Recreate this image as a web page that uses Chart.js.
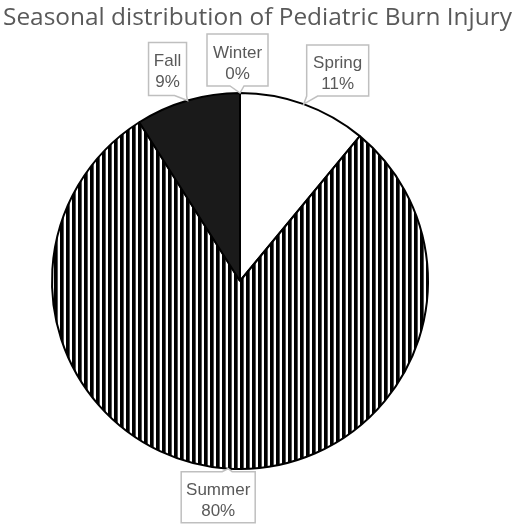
<!DOCTYPE html>
<html>
<head>
<meta charset="utf-8">
<script src="https://cdn.jsdelivr.net/npm/chart.js@4"></script>
<style>
  html, body { margin: 0; padding: 0; background: #fff; }
  #wrap { width: 520px; height: 528px; }
</style>
</head>
<body>
<div id="wrap"><canvas id="myChart"></canvas></div>
<script>
  const title = 'Seasonal distribution of Pediatric Burn Injury';
  const seasons = ['Winter', 'Spring', 'Summer', 'Fall'];
  const percents = [0, 11, 80, 9];

  // callout layout: box size, box centre offset from the slice edge, tail base (x offsets from tip)
  const boxSize = [[61, 52], [62, 51], [74, 51], [38, 53]];
  const boxOffset = [[-2.5, -33], [34, -33.5], [-10, 28.5], [-20, -31.5]];
  const tailBase = [[-10, 4], [3, 14], [-6, 4], [-13, -1]];

  // vertical stripes for summer
  const tile = document.createElement('canvas');
  tile.width = 6;
  tile.height = 6;
  const tctx = tile.getContext('2d');
  tctx.fillStyle = '#ffffff';
  tctx.fillRect(0, 0, 6, 6);
  tctx.fillStyle = '#000000';
  tctx.fillRect(0, 0, 3, 6);
  tctx.fillStyle = '#555555';
  tctx.fillRect(3, 0, 1, 6);
  const stripes = tctx.createPattern(tile, 'repeat');

  const calloutPlugin = {
    id: 'callouts',
    afterDraw(chart) {
      const ctx = chart.ctx;
      ctx.save();

      // title
      ctx.fillStyle = '#595959';
      let size = 28;
      ctx.font = size + 'px "Open Sans"';
      let w = ctx.measureText(title).width;
      size = size * 509 / w;
      ctx.font = size.toFixed(2) + 'px "Open Sans"';
      ctx.textAlign = 'left';
      ctx.textBaseline = 'alphabetic';
      ctx.fillText(title, 3, 25);

      const total = percents.reduce((a, b) => a + b, 0);
      const arcs = chart.getDatasetMeta(0).data;
      ctx.font = '17px "Liberation Sans"';
      ctx.textAlign = 'center';
      arcs.forEach((arc, i) => {
        const mid = (arc.startAngle + arc.endAngle) / 2;
        const tx = arc.x + Math.cos(mid) * arc.outerRadius;
        const ty = arc.y + Math.sin(mid) * arc.outerRadius;
        const bw = boxSize[i][0], bh = boxSize[i][1];
        const cx = tx + boxOffset[i][0], cy = ty + boxOffset[i][1];
        const l = cx - bw / 2, r = cx + bw / 2, t = cy - bh / 2, b = cy + bh / 2;
        const b1 = Math.max(l, Math.min(r, tx + tailBase[i][0]));
        const b2 = Math.max(l, Math.min(r, tx + tailBase[i][1]));

        ctx.beginPath();
        if (ty < t) {
          ctx.moveTo(l, t); ctx.lineTo(b1, t); ctx.lineTo(tx, ty); ctx.lineTo(b2, t);
          ctx.lineTo(r, t); ctx.lineTo(r, b); ctx.lineTo(l, b);
        } else {
          ctx.moveTo(l, t); ctx.lineTo(r, t); ctx.lineTo(r, b); ctx.lineTo(b2, b);
          ctx.lineTo(tx, ty); ctx.lineTo(b1, b); ctx.lineTo(l, b);
        }
        ctx.closePath();
        ctx.fillStyle = '#ffffff';
        ctx.fill();
        ctx.lineWidth = 1.5;
        ctx.strokeStyle = '#bfbfbf';
        ctx.stroke();

        const pct = Math.round(percents[i] / total * 100) + '%';
        ctx.fillStyle = '#595959';
        ctx.fillText(seasons[i], cx, cy - 2.5);
        ctx.fillText(pct, cx, cy + 18.5);
      });
      ctx.restore();
    }
  };

  const data = {
    labels: seasons,
    datasets: [{
      data: percents,
      backgroundColor: ['#ffffff', '#ffffff', stripes, '#1a1a1a'],
      borderColor: '#000000',
      borderWidth: 2,
    }]
  };

  const config = {
    type: 'pie',
    data: data,
    options: {
      responsive: true,
      maintainAspectRatio: false,
      animation: false,
      layout: { padding: { left: 51, right: 91, top: 92, bottom: 58 } },
      plugins: {
        legend: { display: false },
        tooltip: { enabled: false },
        title: { display: false }
      }
    },
    plugins: [calloutPlugin]
  };

  const myChart = new Chart(
    document.getElementById('myChart'),
    config
  );
</script>
</body>
</html>
